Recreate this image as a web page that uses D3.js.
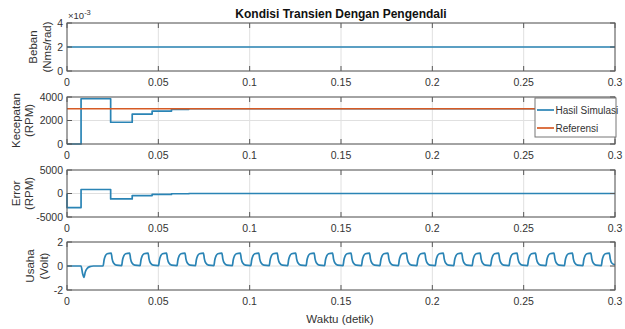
<!DOCTYPE html>
<html>
<head>
<meta charset="utf-8">
<script src="https://cdn.jsdelivr.net/npm/d3@7"></script>
<style>
  html, body { margin: 0; padding: 0; background: #fff; }
  svg { display: block; font-family: "Liberation Sans", Arial, Helvetica, sans-serif; }
</style>
</head>
<body>
<svg id="chart" width="625" height="329"></svg>
<script>
// ---- shared time axis ----
const timeTicks = [0, 0.05, 0.1, 0.15, 0.2, 0.25, 0.3];
const timeTickLabels = ["0", "0.05", "0.1", "0.15", "0.2", "0.25", "0.3"];

// ---- load torque (Nms/rad) ----
const bebanTime = [0, 0.3];
const bebanValue = [0.002, 0.002];
const bebanTicks = [0, 0.002, 0.004];
const bebanTickLabels = ["0", "2", "4"];

// ---- motor speed (RPM), sampled step response ----
const speedTime = [0, 0.0077, 0.0239, 0.0357, 0.0466, 0.0572, 0.0667, 0.3];
const speedValue = [0, 3850, 1850, 2550, 2800, 2950, 3000, 3000];
const refTime = [0, 0.3];
const refValue = [3000, 3000];
const speedTicks = [0, 2000, 4000];

// ---- speed error (RPM) ----
const errorTime = [0, 0, 0.0077, 0.0239, 0.0357, 0.0466, 0.0572, 0.0667, 0.3];
const errorValue = [0, -3000, 850, -1150, -450, -200, -50, 0, 0];
const errorTicks = [-5000, 0, 5000];

// ---- control effort (Volt): [time, value] ----
const usahaSamples = [
  [0, 0], [0.0077, 0], [0.0085, -0.6], [0.0093, -0.95], [0.0100, -0.5], [0.0110, -0.2], [0.0125, -0.05], [0.0145, 0], [0.0190, 0],
  [0.0198, 0.03], [0.0203, 0.5], [0.0210, 0.85], [0.0220, 1.02], [0.0242, 1.08], [0.0247, 0.6], [0.0255, 0.25], [0.0270, 0.07],
  [0.0299, 0.03], [0.0304, 0.5], [0.0311, 0.85], [0.0321, 1.02], [0.0343, 1.08], [0.0348, 0.6], [0.0356, 0.25], [0.0371, 0.07],
  [0.0400, 0.03], [0.0405, 0.5], [0.0412, 0.85], [0.0422, 1.02], [0.0444, 1.08], [0.0449, 0.6], [0.0457, 0.25], [0.0472, 0.07],
  [0.0501, 0.03], [0.0506, 0.5], [0.0513, 0.85], [0.0523, 1.02], [0.0545, 1.08], [0.0550, 0.6], [0.0558, 0.25], [0.0573, 0.07],
  [0.0602, 0.03], [0.0607, 0.5], [0.0614, 0.85], [0.0624, 1.02], [0.0646, 1.08], [0.0651, 0.6], [0.0659, 0.25], [0.0674, 0.07],
  [0.0703, 0.03], [0.0708, 0.5], [0.0715, 0.85], [0.0725, 1.02], [0.0747, 1.08], [0.0752, 0.6], [0.0760, 0.25], [0.0775, 0.07],
  [0.0804, 0.03], [0.0809, 0.5], [0.0816, 0.85], [0.0826, 1.02], [0.0848, 1.08], [0.0853, 0.6], [0.0861, 0.25], [0.0876, 0.07],
  [0.0905, 0.03], [0.0910, 0.5], [0.0917, 0.85], [0.0927, 1.02], [0.0949, 1.08], [0.0954, 0.6], [0.0962, 0.25], [0.0977, 0.07],
  [0.1006, 0.03], [0.1011, 0.5], [0.1018, 0.85], [0.1028, 1.02], [0.1050, 1.08], [0.1055, 0.6], [0.1063, 0.25], [0.1078, 0.07],
  [0.1107, 0.03], [0.1112, 0.5], [0.1119, 0.85], [0.1129, 1.02], [0.1151, 1.08], [0.1156, 0.6], [0.1164, 0.25], [0.1179, 0.07],
  [0.1208, 0.03], [0.1213, 0.5], [0.1220, 0.85], [0.1230, 1.02], [0.1252, 1.08], [0.1257, 0.6], [0.1265, 0.25], [0.1280, 0.07],
  [0.1309, 0.03], [0.1314, 0.5], [0.1321, 0.85], [0.1331, 1.02], [0.1353, 1.08], [0.1358, 0.6], [0.1366, 0.25], [0.1381, 0.07],
  [0.1410, 0.03], [0.1415, 0.5], [0.1422, 0.85], [0.1432, 1.02], [0.1454, 1.08], [0.1459, 0.6], [0.1467, 0.25], [0.1482, 0.07],
  [0.1511, 0.03], [0.1516, 0.5], [0.1523, 0.85], [0.1533, 1.02], [0.1555, 1.08], [0.1560, 0.6], [0.1568, 0.25], [0.1583, 0.07],
  [0.1612, 0.03], [0.1617, 0.5], [0.1624, 0.85], [0.1634, 1.02], [0.1656, 1.08], [0.1661, 0.6], [0.1669, 0.25], [0.1684, 0.07],
  [0.1713, 0.03], [0.1718, 0.5], [0.1725, 0.85], [0.1735, 1.02], [0.1757, 1.08], [0.1762, 0.6], [0.1770, 0.25], [0.1785, 0.07],
  [0.1814, 0.03], [0.1819, 0.5], [0.1826, 0.85], [0.1836, 1.02], [0.1858, 1.08], [0.1863, 0.6], [0.1871, 0.25], [0.1886, 0.07],
  [0.1915, 0.03], [0.1920, 0.5], [0.1927, 0.85], [0.1937, 1.02], [0.1959, 1.08], [0.1964, 0.6], [0.1972, 0.25], [0.1987, 0.07],
  [0.2016, 0.03], [0.2021, 0.5], [0.2028, 0.85], [0.2038, 1.02], [0.2060, 1.08], [0.2065, 0.6], [0.2073, 0.25], [0.2088, 0.07],
  [0.2117, 0.03], [0.2122, 0.5], [0.2129, 0.85], [0.2139, 1.02], [0.2161, 1.08], [0.2166, 0.6], [0.2174, 0.25], [0.2189, 0.07],
  [0.2218, 0.03], [0.2223, 0.5], [0.2230, 0.85], [0.2240, 1.02], [0.2262, 1.08], [0.2267, 0.6], [0.2275, 0.25], [0.2290, 0.07],
  [0.2319, 0.03], [0.2324, 0.5], [0.2331, 0.85], [0.2341, 1.02], [0.2363, 1.08], [0.2368, 0.6], [0.2376, 0.25], [0.2391, 0.07],
  [0.2420, 0.03], [0.2425, 0.5], [0.2432, 0.85], [0.2442, 1.02], [0.2464, 1.08], [0.2469, 0.6], [0.2477, 0.25], [0.2492, 0.07],
  [0.2521, 0.03], [0.2526, 0.5], [0.2533, 0.85], [0.2543, 1.02], [0.2565, 1.08], [0.2570, 0.6], [0.2578, 0.25], [0.2593, 0.07],
  [0.2622, 0.03], [0.2627, 0.5], [0.2634, 0.85], [0.2644, 1.02], [0.2666, 1.08], [0.2671, 0.6], [0.2679, 0.25], [0.2694, 0.07],
  [0.2723, 0.03], [0.2728, 0.5], [0.2735, 0.85], [0.2745, 1.02], [0.2767, 1.08], [0.2772, 0.6], [0.2780, 0.25], [0.2795, 0.07],
  [0.2824, 0.03], [0.2829, 0.5], [0.2836, 0.85], [0.2846, 1.02], [0.2868, 1.08], [0.2873, 0.6], [0.2881, 0.25], [0.2896, 0.07],
  [0.2925, 0.03], [0.2930, 0.5], [0.2937, 0.85], [0.2947, 1.02], [0.2969, 1.08], [0.2974, 0.6], [0.2982, 0.25], [0.3000, 0.1]
];
const usahaTicks = [-2, 0, 2];

// ---- text ----
const titleText = "Kondisi Transien Dengan Pengendali";
const xLabelText = "Waktu (detik)";
const legendLabels = ["Hasil Simulasi", "Referensi"];

// ---- styling ----
const BLUE = "#2a84b5";
const ORANGE = "#d65a24";
const AXIS = "#595959";
const TEXT = "#333";
const GRID = "#e0e0e0";

const svg = d3.select("#chart");
const left = 67, right = 615;
const x = d3.scaleLinear().domain([0, 0.3]).range([left, right]);

function panel(cfg) {
  const y = d3.scaleLinear().domain(cfg.domain).range([cfg.bottom, cfg.top]);
  const g = svg.append("g");

  // grid
  g.selectAll(".gx").data(timeTicks).join("line")
    .attr("x1", d => x(d)).attr("x2", d => x(d))
    .attr("y1", cfg.top).attr("y2", cfg.bottom)
    .attr("stroke", GRID).attr("stroke-width", 1);
  g.selectAll(".gy").data(cfg.ticks).join("line")
    .attr("x1", left).attr("x2", right)
    .attr("y1", d => y(d)).attr("y2", d => y(d))
    .attr("stroke", GRID).attr("stroke-width", 1);

  // data lines
  cfg.series.forEach(s => {
    const line = d3.line()
      .x(d => x(d[0])).y(d => y(d[1]))
      .curve(s.curve || d3.curveLinear);
    g.append("path").datum(s.points)
      .attr("fill", "none")
      .attr("stroke", s.color)
      .attr("stroke-width", 1.7)
      .attr("stroke-linejoin", "round")
      .attr("d", line);
  });

  // inward ticks on all four sides
  const tl = 5;
  g.selectAll(".tb").data(timeTicks).join("line")
    .attr("x1", d => x(d)).attr("x2", d => x(d))
    .attr("y1", cfg.bottom).attr("y2", cfg.bottom - tl)
    .attr("stroke", AXIS);
  g.selectAll(".tt").data(timeTicks).join("line")
    .attr("x1", d => x(d)).attr("x2", d => x(d))
    .attr("y1", cfg.top).attr("y2", cfg.top + tl)
    .attr("stroke", AXIS);
  g.selectAll(".tl").data(cfg.ticks).join("line")
    .attr("x1", left).attr("x2", left + tl)
    .attr("y1", d => y(d)).attr("y2", d => y(d))
    .attr("stroke", AXIS);
  g.selectAll(".tr").data(cfg.ticks).join("line")
    .attr("x1", right).attr("x2", right - tl)
    .attr("y1", d => y(d)).attr("y2", d => y(d))
    .attr("stroke", AXIS);

  // box
  g.append("rect")
    .attr("x", left).attr("y", cfg.top)
    .attr("width", right - left).attr("height", cfg.bottom - cfg.top)
    .attr("fill", "none").attr("stroke", AXIS).attr("stroke-width", 1);

  // x tick labels
  g.selectAll(".xl").data(timeTicks).join("text")
    .attr("x", d => x(d)).attr("y", cfg.bottom + 15)
    .attr("text-anchor", "middle")
    .attr("font-size", 10.5).attr("fill", TEXT)
    .text((d, i) => timeTickLabels[i]);

  // y tick labels
  g.selectAll(".yl").data(cfg.ticks).join("text")
    .attr("x", left - 4).attr("y", d => y(d))
    .attr("dy", "0.35em")
    .attr("text-anchor", "end")
    .attr("font-size", 10.5).attr("fill", TEXT)
    .text((d, i) => cfg.tickLabels[i]);

  // two-line rotated y label, placed left of the tick labels
  const cy = (cfg.top + cfg.bottom) / 2;
  [[cfg.label[0], cfg.labelX[0]], [cfg.label[1], cfg.labelX[1]]].forEach(([txt, bx]) => {
    g.append("text")
      .attr("transform", `translate(${bx},${cy}) rotate(-90)`)
      .attr("text-anchor", "middle")
      .attr("font-size", 11.5).attr("fill", TEXT)
      .text(txt);
  });
  return { g, y };
}

const zip = (a, b) => a.map((v, i) => [v, b[i]]);

// Panel 1: load
panel({
  top: 23, bottom: 71, domain: [0, 0.004], ticks: bebanTicks, tickLabels: bebanTickLabels,
  label: ["Beban", "(Nms/rad)"], labelX: [37, 50.5],
  series: [{ points: zip(bebanTime, bebanValue), color: BLUE }]
});
// exponent marker
const expo = svg.append("text").attr("x", 68).attr("y", 19)
  .attr("font-size", 9.5).attr("fill", TEXT);
expo.append("tspan").text("\u00d710");
expo.append("tspan").attr("dy", -4).attr("font-size", 7.5).text("-3");

// Panel 2: speed vs reference
panel({
  top: 97, bottom: 144, domain: [0, 4000], ticks: speedTicks, tickLabels: speedTicks.map(String),
  label: ["Kecepatan", "(RPM)"], labelX: [19.5, 32.5],
  series: [
    { points: zip(speedTime, speedValue), color: BLUE, curve: d3.curveStepAfter },
    { points: zip(refTime, refValue), color: ORANGE }
  ]
});

// Panel 3: error
panel({
  top: 170, bottom: 217, domain: [-5000, 5000], ticks: errorTicks, tickLabels: errorTicks.map(String),
  label: ["Error", "(RPM)"], labelX: [19.5, 32.5],
  series: [{ points: zip(errorTime, errorValue), color: BLUE, curve: d3.curveStepAfter }]
});

// Panel 4: control effort
panel({
  top: 242, bottom: 290, domain: [-2, 2], ticks: usahaTicks, tickLabels: usahaTicks.map(String),
  label: ["Usaha", "(Volt)"], labelX: [33.5, 47.5],
  series: [{ points: usahaSamples, color: BLUE, curve: d3.curveMonotoneX }]
});

// title and x label
svg.append("text").attr("x", 341).attr("y", 18)
  .attr("text-anchor", "middle").attr("font-size", 12).attr("font-weight", "bold")
  .attr("fill", "#111").text(titleText);
svg.append("text").attr("x", 340).attr("y", 323)
  .attr("text-anchor", "middle").attr("font-size", 11.5).attr("fill", TEXT)
  .text(xLabelText);

// legend in speed panel
const lg = svg.append("g");
lg.append("rect").attr("x", 535).attr("y", 98).attr("width", 81).attr("height", 39)
  .attr("fill", "#fff").attr("stroke", "#777").attr("stroke-width", 1);
[[legendLabels[0], BLUE, 110], [legendLabels[1], ORANGE, 128]].forEach(([txt, col, ly]) => {
  lg.append("line").attr("x1", 537).attr("x2", 554).attr("y1", ly).attr("y2", ly)
    .attr("stroke", col).attr("stroke-width", 1.7);
  lg.append("text").attr("x", 555.5).attr("y", ly).attr("dy", "0.35em")
    .attr("font-size", 10).attr("fill", TEXT).text(txt);
});
</script>
</body>
</html>
